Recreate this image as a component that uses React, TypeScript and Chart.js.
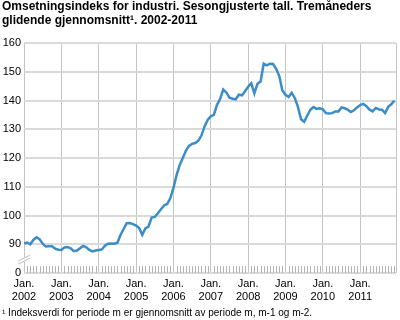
import React, { useEffect, useRef } from "react";
import { Chart, registerables } from "chart.js";

Chart.register(...registerables);

const years = ["2002", "2003", "2004", "2005", "2006", "2007", "2008", "2009", "2010", "2011"];
const v2002 = [90.2, 90.6, 90.0, 91.5, 92.4, 91.8, 90.2, 89.2, 89.3, 89.3, 88.5, 88.1];
const v2003 = [88.0, 88.9, 89.0, 88.6, 87.6, 87.8, 88.6, 89.4, 88.9, 88.0, 87.5, 87.8];
const v2004 = [88.0, 88.2, 89.5, 90.2, 90.3, 90.2, 90.5, 93.2, 95.3, 97.3, 97.4, 97.0];
const v2005 = [96.5, 95.6, 93.3, 95.5, 96.2, 99.3, 99.5, 100.8, 102.2, 103.5, 104.0, 106.0];
const v2006 = [109.5, 114.0, 117.5, 120.0, 122.5, 124.2, 124.9, 125.2, 126.0, 127.8, 131.0, 133.2];
const v2007 = [134.5, 135.0, 138.5, 140.5, 143.8, 142.8, 141.0, 140.6, 140.4, 142.0, 141.8, 143.2];
const v2008 = [144.8, 146.0, 142.5, 145.8, 146.6, 152.8, 152.2, 152.8, 152.7, 151.0, 148.5, 143.5];
const v2009 = [142.0, 141.2, 142.7, 140.8, 137.8, 133.5, 132.6, 134.8, 136.8, 137.7, 137.1, 137.3];
const v2010 = [136.9, 135.6, 135.5, 135.6, 136.2, 136.2, 137.6, 137.3, 136.8, 136.0, 136.6, 137.6];
const v2011 = [138.4, 138.8, 138.0, 136.8, 136.2, 137.4, 136.9, 136.8, 135.6, 137.8, 138.7, 140.0];
const yTicks = [80, 90, 100, 110, 120, 130, 140, 150, 160];
const yTickLabels = ["0", "90", "100", "110", "120", "130", "140", "150", "160"];

const values = [...v2002, ...v2003, ...v2004, ...v2005, ...v2006, ...v2007, ...v2008, ...v2009, ...v2010, ...v2011];

const FONT = '"Liberation Sans", Arial, sans-serif';

const extrasPlugin = {
  id: "extras",
  afterDraw(chart: any) {
    const ctx = chart.ctx;
    const xs = chart.scales.x;
    const ys = chart.scales.y;
    const bottom = ys.getPixelForValue(80);
    ctx.save();
    // minor month ticks
    ctx.strokeStyle = "#b4b4b4";
    ctx.lineWidth = 1;
    for (let i = 1; i < values.length; i++) {
      if (i % 12 === 0) continue;
      const x = Math.round(xs.getPixelForValue(i)) + 0.5;
      ctx.beginPath();
      ctx.moveTo(x, bottom - 7);
      ctx.lineTo(x, bottom);
      ctx.stroke();
    }
    // axis break
    const x0 = xs.getPixelForValue(0);
    const yb = (ys.getPixelForValue(80) + ys.getPixelForValue(90)) / 2 + 1;
    ctx.fillStyle = "#ffffff";
    ctx.fillRect(x0 - 3, yb - 2, 6, 4);
    ctx.strokeStyle = "#bdbdbd";
    ctx.lineWidth = 1;
    for (const d of [-1.5, 1.5]) {
      ctx.beginPath();
      ctx.moveTo(x0 - 6, yb + 3 + d);
      ctx.lineTo(x0 + 6, yb - 3 + d);
      ctx.stroke();
    }
    ctx.restore();
  },
};

function LineChart() {
  const ref = useRef<HTMLCanvasElement | null>(null);
  useEffect(() => {
    if (!ref.current) return;
    const data = values.map((v, i) => ({ x: i, y: v }));
    const chart = new Chart(ref.current, {
      type: "line",
      data: {
        datasets: [
          {
            data,
            borderColor: "#3a8dc7",
            borderWidth: 2.5,
            pointRadius: 0,
            tension: 0,
            fill: false,
          },
        ],
      },
      options: {
        animation: false,
        responsive: false,
        maintainAspectRatio: false,
        layout: { padding: { top: 43, right: 3, left: 0, bottom: 17 } },
        plugins: { legend: { display: false }, tooltip: { enabled: false }, title: { display: false } },
        scales: {
          x: {
            type: "linear",
            min: 0,
            max: 119.5,
            afterBuildTicks: (axis: any) => {
              const t = years.map((_, k) => ({ value: k * 12 }));
              t.push({ value: 119.5 });
              axis.ticks = t;
            },
            afterFit: (axis: any) => {
              axis.height = 30;
            },
            ticks: {
              autoSkip: false,
              maxRotation: 0,
              padding: 4,
              color: "#000",
              font: { family: FONT, size: 11 },
              callback: (v: any) => {
                const k = Math.round(Number(v) / 12);
                if (Number(v) % 12 !== 0 || k >= years.length) return "";
                return ["Jan.", years[k]];
              },
            },
            grid: { color: "#c4c4c4", lineWidth: 1, drawTicks: false },
            border: { display: false },
          },
          y: {
            min: 80,
            max: 160,
            afterBuildTicks: (axis: any) => {
              axis.ticks = yTicks.map((v) => ({ value: v }));
            },
            afterFit: (axis: any) => {
              axis.width = 24;
            },
            ticks: {
              padding: 3,
              color: "#000",
              font: { family: FONT, size: 11 },
              callback: (v: any) => {
                const idx = yTicks.indexOf(Number(v));
                return idx >= 0 ? yTickLabels[idx] : "";
              },
            },
            grid: { color: "#dadada", lineWidth: 2, drawTicks: false },
            border: { display: false },
          },
        },
      },
      plugins: [extrasPlugin],
    });
    return () => chart.destroy();
  }, []);
  return <canvas ref={ref} width={400} height={320} style={{ position: "absolute", left: 0, top: 0 }} />;
}

export default function App() {
  return (
    <div style={{ position: "absolute", left: 0, top: 0, width: 400, height: 320, background: "#fff", overflow: "hidden" }}>
      <LineChart />
      <div
        style={{
          position: "absolute",
          left: 2,
          top: 0,
          font: `bold 12px ${FONT}`,
          lineHeight: "13.5px",
          color: "#000",
          whiteSpace: "nowrap",
        }}
      >
        Omsetningsindeks for industri. Sesongjusterte tall. Tremåneders
        <br />
        glidende gjennomsnitt¹. 2002-2011
      </div>
      <div
        style={{
          position: "absolute",
          left: 2,
          top: 307,
          font: `10px ${FONT}`,
          color: "#000",
          whiteSpace: "nowrap",
        }}
      >
        ¹ Indeksverdi for periode m er gjennomsnitt av periode m, m-1 og m-2.
      </div>
    </div>
  );
}
